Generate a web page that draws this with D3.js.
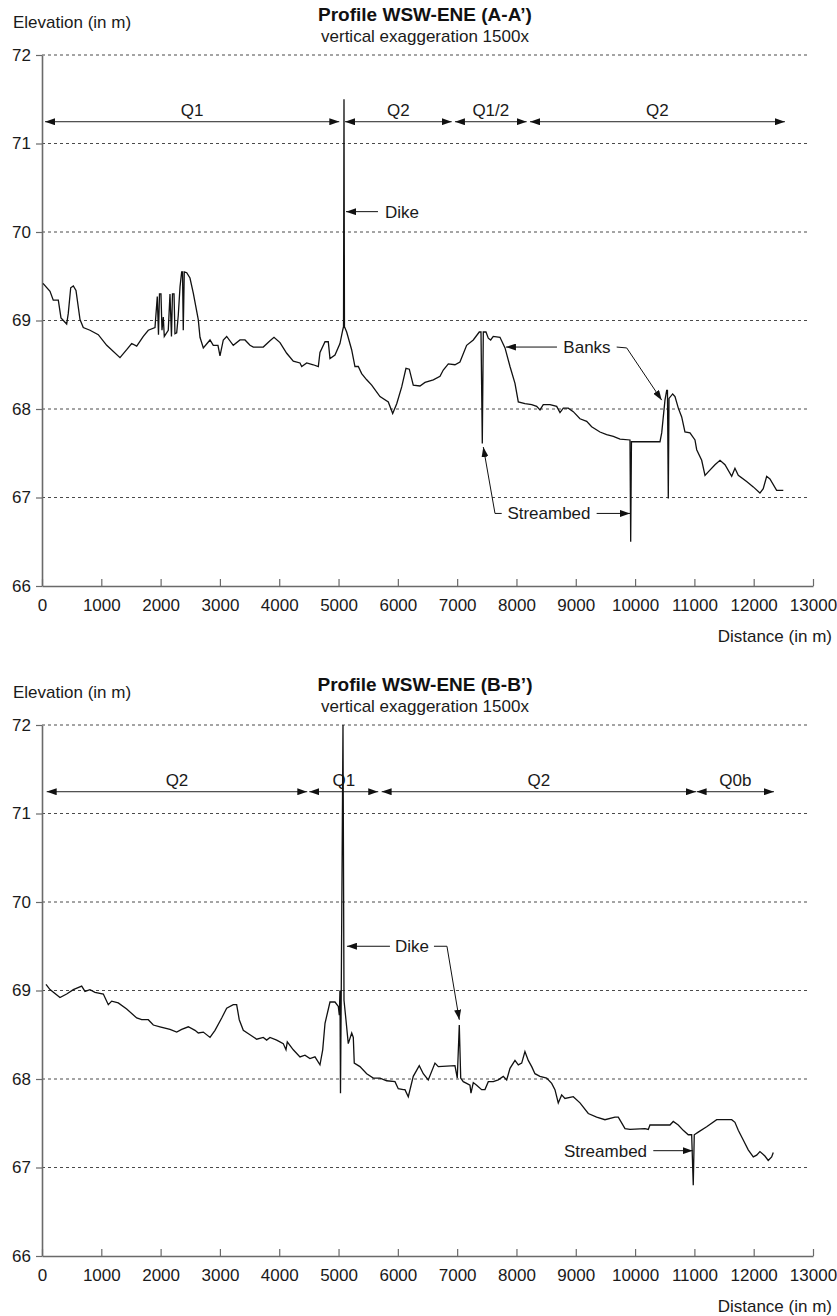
<!DOCTYPE html>
<html>
<head>
<meta charset="utf-8">
<script src="https://cdn.jsdelivr.net/npm/d3@7"></script>
<style>
  body { margin: 0; background: #fff; }
  svg { display: block; font-family: "Liberation Sans", Arial, Helvetica, sans-serif; }
</style>
</head>
<body>
<svg id="chart" width="837" height="1316"></svg>
<script>
// Axis ticks
const distanceTicks = [0, 1000, 2000, 3000, 4000, 5000, 6000, 7000, 8000, 9000, 10000, 11000, 12000, 13000];
const elevationTicks = [66, 67, 68, 69, 70, 71, 72];

// Profile A-A': [distance (m), elevation (m)]
const profileA = [
  [17,69.42],[135,69.33],[190,69.23],[275,69.23],[320,69.03],[416,68.96],[443,69.08],[484,69.37],
  [528,69.39],[573,69.34],[641,69.01],[696,68.92],[809,68.89],[949,68.84],[1091,68.72],[1315,68.58],
  [1428,68.67],[1512,68.74],[1597,68.71],[1708,68.82],[1792,68.89],[1905,68.92],[1944,69.27],[1964,68.84],
  [1981,69.30],[2006,69.30],[2023,68.89],[2045,69.04],[2062,68.82],[2129,68.89],[2158,69.30],[2183,68.82],
  [2200,69.30],[2226,69.30],[2242,68.85],[2271,68.86],[2298,69.06],[2327,69.38],[2355,69.55],[2369,69.55],
  [2382,68.89],[2399,69.55],[2440,69.54],[2495,69.48],[2551,69.31],[2635,69.01],[2664,68.81],[2720,68.69],
  [2833,68.78],[2888,68.72],[2967,68.72],[3001,68.60],[3057,68.78],[3114,68.82],[3225,68.72],[3338,68.78],
  [3423,68.78],[3507,68.72],[3563,68.70],[3731,68.70],[3844,68.77],[3912,68.81],[4013,68.75],[4126,68.63],
  [4237,68.54],[4350,68.52],[4379,68.48],[4463,68.52],[4574,68.50],[4659,68.48],[4687,68.64],[4772,68.76],
  [4827,68.76],[4856,68.57],[4940,68.61],[5024,68.74],[5070,68.89],[5084,68.93],[5092,71.50],[5100,68.93],
  [5137,68.87],[5221,68.67],[5277,68.48],[5333,68.48],[5390,68.40],[5475,68.33],[5559,68.27],[5699,68.14],
  [5839,68.08],[5913,67.95],[5981,68.06],[6065,68.25],[6137,68.46],[6193,68.45],[6260,68.27],[6373,68.26],
  [6458,68.30],[6598,68.33],[6711,68.37],[6766,68.44],[6851,68.51],[6963,68.50],[7047,68.53],[7160,68.72],
  [7272,68.78],[7373,68.87],[7402,68.87],[7424,67.61],[7441,68.87],[7486,68.87],[7525,68.80],[7565,68.78],
  [7609,68.82],[7722,68.81],[7807,68.69],[7891,68.48],[7975,68.29],[8031,68.08],[8144,68.06],[8257,68.05],
  [8341,68.03],[8397,67.99],[8452,68.05],[8565,68.05],[8678,68.03],[8734,67.96],[8790,68.01],[8874,68.01],
  [8958,67.97],[9071,67.89],[9184,67.86],[9268,67.80],[9408,67.74],[9521,67.71],[9633,67.69],[9746,67.66],
  [9914,67.65],[9926,66.50],[9939,67.63],[10307,67.63],[10420,67.63],[10449,67.73],[10504,68.10],[10533,68.21],
  [10546,68.21],[10560,66.99],[10572,68.12],[10634,68.17],[10673,68.14],[10729,68.01],[10786,67.91],[10841,67.74],
  [10926,67.73],[11010,67.65],[11039,67.54],[11123,67.42],[11179,67.25],[11234,67.29],[11347,67.37],[11432,67.42],
  [11516,67.37],[11629,67.24],[11684,67.33],[11740,67.25],[11881,67.18],[11993,67.12],[12105,67.05],[12161,67.10],
  [12219,67.24],[12274,67.21],[12387,67.08],[12499,67.08]
];

// Profile B-B': [distance (m), elevation (m)]
const profileB = [
  [67,69.07],[135,69.01],[303,68.92],[416,68.96],[528,69.01],[669,69.05],[725,68.99],[809,69.01],
  [894,68.98],[1034,68.96],[1118,68.84],[1175,68.88],[1286,68.86],[1428,68.79],[1597,68.69],[1681,68.67],
  [1792,68.67],[1877,68.61],[1989,68.59],[2158,68.56],[2271,68.53],[2355,68.56],[2467,68.59],[2580,68.55],
  [2635,68.52],[2720,68.53],[2833,68.47],[2917,68.55],[3030,68.69],[3114,68.80],[3225,68.84],[3282,68.84],
  [3326,68.67],[3394,68.55],[3507,68.50],[3620,68.45],[3731,68.47],[3788,68.44],[3844,68.47],[3957,68.44],
  [4068,68.40],[4114,68.33],[4136,68.42],[4237,68.33],[4350,68.25],[4434,68.27],[4518,68.23],[4603,68.25],
  [4687,68.16],[4733,68.33],[4772,68.63],[4856,68.87],[4940,68.87],[4996,68.82],[5013,68.72],[5024,69.00],
  [5033,67.84],[5046,69.01],[5075,72.00],[5092,68.89],[5125,68.67],[5164,68.40],[5222,68.52],[5249,68.47],
  [5265,68.18],[5361,68.14],[5475,68.06],[5586,68.01],[5699,68.01],[5812,67.98],[5952,67.97],[6007,67.89],
  [6092,67.88],[6120,67.88],[6176,67.80],[6260,68.03],[6361,68.15],[6429,68.06],[6513,67.99],[6626,68.18],
  [6682,68.14],[6963,68.15],[7002,68.01],[7036,68.61],[7060,68.01],[7103,67.97],[7160,67.95],[7216,67.93],
  [7233,67.84],[7272,67.96],[7329,67.93],[7413,67.88],[7469,67.88],[7525,67.97],[7609,67.97],[7693,67.99],
  [7778,68.03],[7835,67.99],[7891,68.12],[7975,68.21],[8031,68.16],[8088,68.18],[8143,68.31],[8199,68.21],
  [8257,68.14],[8312,68.06],[8396,68.03],[8509,68.01],[8594,67.95],[8649,67.88],[8705,67.73],[8762,67.82],
  [8818,67.78],[8958,67.80],[9071,67.73],[9211,67.61],[9352,67.57],[9492,67.54],[9661,67.57],[9717,67.57],
  [9830,67.44],[9914,67.43],[10167,67.44],[10223,67.43],[10251,67.48],[10588,67.48],[10644,67.52],[10728,67.48],
  [10812,67.42],[10897,67.37],[10954,67.37],[10981,66.80],[10998,67.37],[11065,67.40],[11207,67.46],[11376,67.54],
  [11629,67.54],[11684,67.51],[11740,67.42],[11824,67.31],[11908,67.20],[11993,67.12],[12050,67.14],[12105,67.18],
  [12189,67.13],[12245,67.08],[12303,67.12],[12330,67.17]
];

// Geological units along each profile (distance range in m)
const unitsA = [
  { label: "Q1",   from: 51,   to: 5013 },
  { label: "Q2",   from: 5109, to: 6908 },
  { label: "Q1/2", from: 6963, to: 8172 },
  { label: "Q2",   from: 8228, to: 12527 }
];
const unitsB = [
  { label: "Q2",  from: 79,    to: 4473 },
  { label: "Q1",  from: 4507,  to: 5670 },
  { label: "Q2",  from: 5727,  to: 11027 },
  { label: "Q0b", from: 11038, to: 12342 }
];

// Callouts: text anchored at [distance, elevation], leader lines as point lists ending at the arrow tip
const notesA = [
  { text: "Dike", at: [5783, 70.23], anchor: "start",
    leaders: [[[5665, 70.23], [5126, 70.23]]] },
  { text: "Banks", at: [9189, 68.70], anchor: "middle",
    leaders: [[[8683, 68.70], [7823, 68.70]],
              [[9690, 68.70], [9859, 68.69], [10449, 68.10]]] },
  { text: "Streambed", at: [8548, 66.82], anchor: "middle",
    leaders: [[[7751, 66.82], [7638, 66.82], [7441, 67.57]],
              [[9352, 66.82], [9914, 66.82]]] }
];
const notesB = [
  { text: "Dike", at: [6238, 69.50], anchor: "middle",
    leaders: [[[5867, 69.50], [5142, 69.50]],
              [[6609, 69.50], [6828, 69.50], [7036, 68.67]]] },
  { text: "Streambed", at: [9501, 67.19], anchor: "middle",
    leaders: [[[10307, 67.19], [10971, 67.19]]] }
];

const panels = [
  { top: 55,  title: "Profile WSW-ENE (A-A\u2019)", data: profileA, units: unitsA, notes: notesA },
  { top: 725, title: "Profile WSW-ENE (B-B\u2019)", data: profileB, units: unitsB, notes: notesB }
];

const svg = d3.select("#chart");
const textColor = "#1a1a1a";
const axisColor = "#6a6a6a";
const plotLeft = 42, plotRight = 813, plotHeight = 531;

// Shared arrowhead
const defs = svg.append("defs");
defs.append("marker")
  .attr("id", "head")
  .attr("viewBox", "0 0 10 7")
  .attr("refX", 10).attr("refY", 3.5)
  .attr("markerWidth", 10).attr("markerHeight", 7)
  .attr("markerUnits", "userSpaceOnUse")
  .attr("orient", "auto-start-reverse")
  .append("path")
  .attr("d", "M0,0 L10,3.5 L0,7 Z")
  .attr("fill", "#111");

const x = d3.scaleLinear().domain([0, 13000]).range([plotLeft, plotRight]);

panels.forEach(p => {
  const y = d3.scaleLinear().domain([66, 72]).range([p.top + plotHeight, p.top]);
  const g = svg.append("g");

  // Dashed elevation gridlines
  g.append("g").selectAll("line")
    .data(elevationTicks.filter(v => v > 66))
    .join("line")
    .attr("x1", plotLeft).attr("x2", x(12930))
    .attr("y1", d => y(d)).attr("y2", d => y(d))
    .attr("stroke", "#4a4a4a").attr("stroke-width", 1)
    .attr("stroke-dasharray", "3,3");

  // Y axis
  const yAxis = g.append("g")
    .attr("transform", `translate(${plotLeft},0)`)
    .call(d3.axisLeft(y).tickValues(elevationTicks).tickFormat(d3.format("d"))
      .tickSize(6).tickSizeOuter(0).tickPadding(5));
  yAxis.select(".domain").attr("stroke", axisColor).attr("stroke-width", 1.6);
  yAxis.selectAll(".tick line").attr("stroke", axisColor).attr("stroke-width", 1.2);
  yAxis.selectAll(".tick text").attr("font-size", 17).attr("fill", textColor)
    .attr("font-family", "Liberation Sans, Arial, sans-serif");

  // X axis with inward ticks
  const xAxis = g.append("g")
    .attr("transform", `translate(0,${y(66)})`)
    .call(d3.axisBottom(x).tickValues(distanceTicks).tickFormat(d3.format("d"))
      .tickSize(-7).tickSizeOuter(0).tickPadding(13));
  xAxis.select(".domain").attr("stroke", axisColor).attr("stroke-width", 1.6);
  xAxis.selectAll(".tick line").attr("stroke", axisColor).attr("stroke-width", 1.2);
  xAxis.selectAll(".tick text").attr("font-size", 17).attr("fill", textColor)
    .attr("font-family", "Liberation Sans, Arial, sans-serif");

  // Axis titles and headings
  g.append("text").attr("x", 13).attr("y", p.top - 27)
    .attr("font-size", 17).attr("fill", textColor).text("Elevation (in m)");
  g.append("text").attr("x", 832).attr("y", y(66) + 56).attr("text-anchor", "end")
    .attr("font-size", 17).attr("fill", textColor).text("Distance (in m)");
  g.append("text").attr("x", 425).attr("y", p.top - 34).attr("text-anchor", "middle")
    .attr("font-size", 19).attr("font-weight", "bold").attr("fill", "#111").text(p.title);
  g.append("text").attr("x", 425).attr("y", p.top - 13).attr("text-anchor", "middle")
    .attr("font-size", 17).attr("fill", textColor).text("vertical exaggeration 1500x");

  // Unit extents
  const uy = y(71.246);
  const units = g.append("g").selectAll("g").data(p.units).join("g");
  units.append("line")
    .attr("x1", d => x(d.from)).attr("x2", d => x(d.to))
    .attr("y1", uy).attr("y2", uy)
    .attr("stroke", "#222").attr("stroke-width", 1)
    .attr("marker-start", "url(#head)").attr("marker-end", "url(#head)");
  units.append("text")
    .attr("x", d => x((d.from + d.to) / 2)).attr("y", uy - 6)
    .attr("text-anchor", "middle").attr("font-size", 17).attr("fill", textColor)
    .text(d => d.label);

  // Elevation profile
  const line = d3.line().x(d => x(d[0])).y(d => y(d[1]));
  g.append("path").datum(p.data)
    .attr("d", line)
    .attr("fill", "none").attr("stroke", "#111").attr("stroke-width", 1.3)
    .attr("stroke-linejoin", "miter");

  // Callouts
  const leader = d3.line().x(d => x(d[0])).y(d => y(d[1]));
  p.notes.forEach(n => {
    g.append("text").attr("x", x(n.at[0])).attr("y", y(n.at[1])).attr("dy", "0.35em")
      .attr("text-anchor", n.anchor).attr("font-size", 17).attr("fill", textColor).text(n.text);
    n.leaders.forEach(pts => {
      g.append("path").attr("d", leader(pts))
        .attr("fill", "none").attr("stroke", "#111").attr("stroke-width", 1)
        .attr("marker-end", "url(#head)");
    });
  });
});
</script>
</body>
</html>
